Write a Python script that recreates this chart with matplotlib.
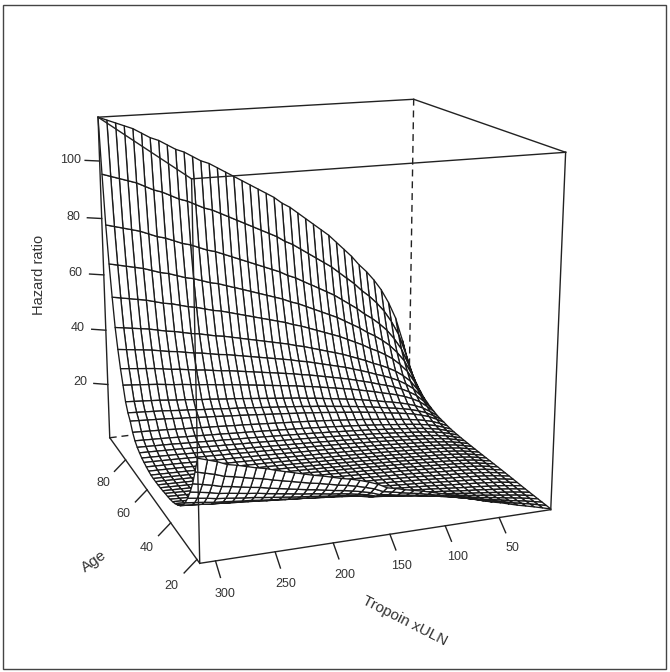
import numpy as np
import matplotlib
matplotlib.use("Agg")
import matplotlib.pyplot as plt
from matplotlib.patches import Rectangle
from mpl_toolkits.mplot3d import proj3d

plt.rcParams['font.family'] = ['Liberation Sans', 'DejaVu Sans']

# limits of the box
trop_lim = (313, 1)
age_lim = (18, 96)
hr_lim = (0, 115)

trop_ticks = [50, 100, 150, 200, 250, 300]
age_ticks = [20, 40, 60, 80]
hr_ticks = [20, 40, 60, 80, 100]

# grid lines of the surface
troponin = [313, 305, 297, 289, 281, 273, 265, 257, 249, 241, 233, 225, 217, 209, 201, 193, 185, 177, 169, 161,
            153, 145, 137, 129, 121, 113, 105, 97, 89, 81, 73, 65, 57, 49, 41, 33, 25, 17, 9, 1]
age = [18, 20, 22, 24, 26, 28, 30, 32, 34, 36, 38, 40, 42, 44, 46, 48, 50, 52, 54, 56,
       58, 60, 62, 64, 66, 68, 70, 72, 74, 76, 78, 80, 82, 84, 86, 88, 90, 92, 94, 96]

# hazard at the highest troponin, split in the part that grows with age and the part at young age
hr_old = [2.0, 2.2, 2.4, 2.6, 2.8, 3.0, 3.3, 3.7, 4.2, 4.6, 5, 5.3, 5.6, 5.9, 6.1, 6.3, 6.5, 6.7, 7, 7.3,
          7.6, 8, 8.5, 9, 9.8, 10.7, 12, 14, 17, 19, 22, 27, 32, 38, 45, 55, 66, 79, 96, 115]
hr_young = [31, 25.5, 20.5, 16.6, 13.3, 10.5, 8.3, 6.6, 5.2, 4.1, 3.2, 2.6, 2.1, 1.7, 1.3, 1.0, .7, .5, .2, 0,
            0, 0, 0, 0, 0, 0, 0, 0, 0, 0, 0, 0, 0, 0, 0, 0, 0, 0, 0, 0]
# share of those parts left at each troponin (highest first)
share_old = [1.00, .99, .98, .97, .96, .945, .93, .92, .905, .89, .88, .865, .85, .84, .825, .81, .795, .78, .765, .75,
             .735, .72, .70, .685, .665, .645, .625, .605, .585, .56, .535, .51, .48, .455, .425, .39, .345, .29, .21, .12]
share_young = [1.00, .97, .94, .90, .88, .855, .83, .81, .78, .755, .73, .705, .68, .66, .635, .61, .59, .565, .535, .50,
               .45, .43, .405, .385, .365, .34, .315, .29, .265, .235, .205, .175, .15, .13, .105, .08, .06, .04, .02, 0]

fig = plt.figure(figsize=(6.70, 6.72), dpi=100)
ax = fig.add_axes([15.3 / 670, 62.07 / 672, 588.79 / 670, 588.79 / 672], projection='3d')
ax.set_xlim(*trop_lim)
ax.set_ylim(*age_lim)
ax.set_zlim(*hr_lim)
ax.set_axis_off()
ax.computed_zorder = False
ax.view_init(elev=15.77, azim=-110.389)
ax.set_proj_type('persp', focal_length=0.5147)
ax.set_box_aspect((1, 0.9749, 0.9906))

T, A = np.meshgrid(troponin, age)
Z = np.outer(hr_old, share_old) + np.outer(hr_young, share_young)
surf = ax.plot_surface(T, A, Z, rstride=1, cstride=1, color='white', edgecolor='#1a1a1a', linewidth=0.95,
                       shade=False, zorder=2)
surf.set_clip_on(False)


def seg(a, b, z, **kw):
    ax.plot(*zip(a, b), zorder=z, color='#222222', lw=1.0, clip_on=False, **kw)


def label(x, y, z, s):
    px, py, _ = proj3d.proj_transform(x, y, z, ax.get_proj())
    ax.text2D(px, py, s, transform=ax.transData, ha='center', va='center', fontsize=9, color='#333333', zorder=4)


t0, t1 = trop_lim
a0, a1 = age_lim
z0, z1 = hr_lim
# back of the box
seg((t0, a1, z0), (t1, a1, z0), 1, ls=(0, (5, 3.5)))
seg((t1, a1, z0), (t1, a1, z1), 1, ls=(0, (5, 3.5)))
seg((t1, a1, z0), (t1, a0, z0), 1, ls=(0, (5, 3.5)))
seg((t0, a1, z1), (t1, a1, z1), 1)
seg((t1, a1, z1), (t1, a0, z1), 1)
# front of the box
seg((t0, a0, z1), (t1, a0, z1), 3)
seg((t0, a0, z1), (t0, a1, z1), 3)
seg((t0, a1, z0), (t0, a1, z1), 3)
seg((t0, a0, z0), (t0, a0, z1), 3)
seg((t1, a0, z0), (t1, a0, z1), 3)
seg((t0, a0, z0), (t0, a1, z0), 3)
seg((t0, a0, z0), (t1, a0, z0), 3)

for v in trop_ticks:
    seg((v, a0, z0), (v, a0 - 3.3, z0 - 3.2), 3)
    label(v, a0 - 6.6, z0 - 6.4, str(v))
for v in age_ticks:
    seg((t0, v, z0), (t0 + 10.8, v, z0 - 3.7), 3)
    label(t0 + 21.6, v, z0 - 7.4, str(v))
for v in hr_ticks:
    seg((t0, a1, v), (t0 + 11.7, a1 + 2, v), 3)
    label(t0 + 23.4, a1 + 4, v, str(v))

fig.text(39 / 670, 1 - 275 / 672, 'Hazard ratio', rotation=90, ha='center', va='center', fontsize=10.5, color='#333333')
fig.text(94 / 670, 1 - 561 / 672, 'Age', rotation=35, ha='center', va='center', fontsize=11, color='#333333')
fig.text(405 / 670, 1 - 621 / 672, 'Tropoin xULN', rotation=-27, ha='center', va='center', fontsize=11, color='#333333')

fig.add_artist(Rectangle((3 / 670, 1 - 669 / 672), 663 / 670, 664 / 672, transform=fig.transFigure, fill=False,
                         edgecolor='#444444', lw=1.0))
fig.savefig('out.png', dpi=100)
